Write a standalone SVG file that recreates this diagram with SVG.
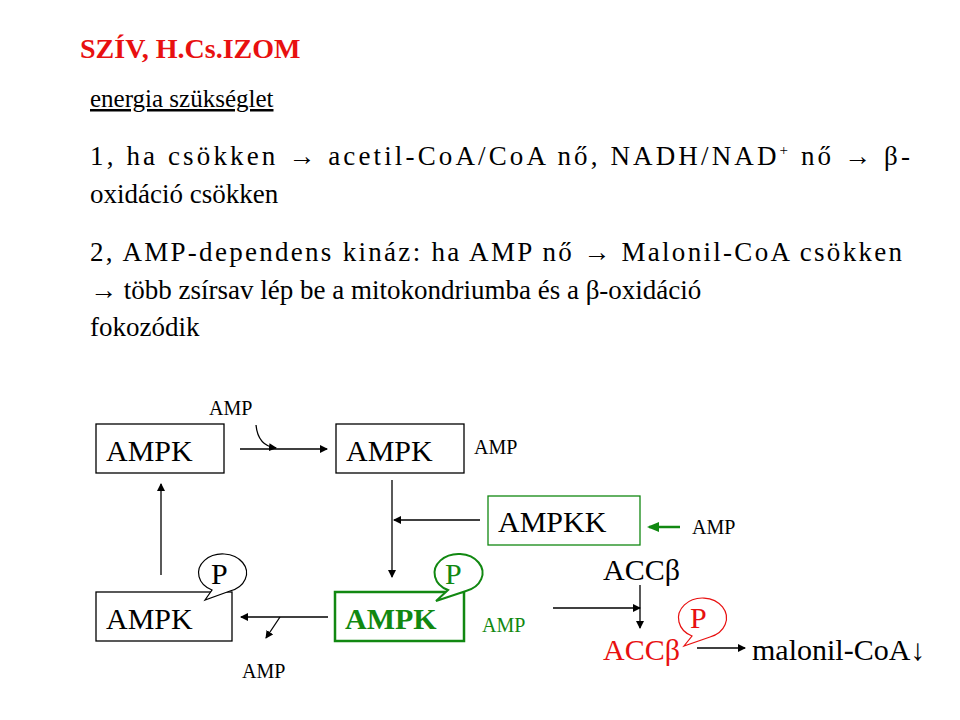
<svg xmlns="http://www.w3.org/2000/svg" width="960" height="720" viewBox="0 0 960 720">
<defs>
<marker id="ah" markerWidth="8" markerHeight="8" refX="7" refY="4" orient="auto" markerUnits="userSpaceOnUse"><path d="M0,0 L8,4 L0,8 z" fill="#000"/></marker>
<marker id="ahg" markerWidth="12" markerHeight="10" refX="10" refY="5" orient="auto" markerUnits="userSpaceOnUse"><path d="M0,0 L12,5 L0,10 z" fill="#118811"/></marker>
</defs>
<style>
text,tspan{font-family:"Liberation Serif","DejaVu Serif",serif}
text{fill:#000}
.t{font-size:27px}
.b{font-size:30px}
.s{font-size:20px}
.box{fill:#fff;stroke:#000;stroke-width:1.3}
.g{fill:#118811}
.r{fill:#e81010}
.c{fill:none;stroke:#000;stroke-width:1.3}
</style>
<rect width="960" height="720" fill="#fff"/>
<text x="80" y="58" style="font-size:28px;font-weight:bold" class="r">SZÍV, H.Cs.IZOM</text>
<text x="90" y="107" class="t" style="font-size:25px" text-decoration="underline">energia szükséglet</text>
<text x="90" y="165" class="t" textLength="820" lengthAdjust="spacing">1,  ha csökken → acetil-CoA/CoA nő, NADH/NAD<tspan dy="-10" style="font-size:15px">+</tspan><tspan dy="10"> nő → β-</tspan></text>
<text x="90" y="203" class="t">oxidáció csökken</text>
<text x="90" y="261" class="t" textLength="812" lengthAdjust="spacing">2, AMP-dependens kináz: ha AMP nő → Malonil-CoA csökken</text>
<text x="90" y="299" class="t">→ több zsírsav lép be a mitokondriumba  és a β-oxidáció</text>
<text x="90" y="336" class="t">fokozódik</text>

<g id="connectors">
<line x1="240" y1="449" x2="327" y2="449" class="c" marker-end="url(#ah)"/>
<path d="M256,425 Q258,446 276,448" class="c" marker-end="url(#ah)"/>
<line x1="161" y1="575" x2="161" y2="484" class="c" marker-end="url(#ah)"/>
<line x1="392" y1="480" x2="392" y2="577" class="c" marker-end="url(#ah)"/>
<line x1="480" y1="520" x2="394" y2="520" class="c" marker-end="url(#ah)"/>
<line x1="680" y1="527" x2="649" y2="527" style="stroke:#118811;stroke-width:2.5" marker-end="url(#ahg)"/>
<line x1="328" y1="617" x2="241" y2="617" class="c" marker-end="url(#ah)"/>
<line x1="280" y1="617" x2="266" y2="638" class="c" marker-end="url(#ah)"/>
<line x1="553" y1="608" x2="640" y2="608" class="c" marker-end="url(#ah)"/>
<line x1="640" y1="585" x2="640" y2="628" class="c" marker-end="url(#ah)"/>
<line x1="697" y1="648" x2="745" y2="648" class="c" marker-end="url(#ah)"/>
</g>

<g id="n1"><rect x="96" y="424" width="128" height="49" class="box"/><text x="106" y="461" class="b">AMPK</text></g>
<g id="n2"><rect x="336" y="424" width="128" height="49" class="box"/><text x="346" y="461" class="b">AMPK</text></g>
<g id="ampkk"><rect x="488" y="496" width="152" height="49" style="fill:#fff;stroke:#118811;stroke-width:1.3"/><text x="498" y="532" class="b">AMPKK</text></g>
<g id="n4"><rect x="96" y="592" width="136" height="49" class="box"/><text x="106" y="629" class="b">AMPK</text></g>
<g id="n5"><rect x="335" y="592" width="129" height="49" style="fill:#fff;stroke:#118811;stroke-width:2.5"/><text x="345" y="629" class="b g" font-weight="bold">AMPK</text></g>

<g id="p1"><path d="M212,590 A24,19 0 1 1 230,591 L205,600 z" style="fill:#fff;stroke:#000;stroke-width:1.2"/><text x="211" y="584" class="b">P</text></g>
<g id="p2"><path d="M448,590 A24,19 0 1 1 466,591 L436,601 z" style="fill:#fff;stroke:#118811;stroke-width:2"/><text x="445" y="584" class="b g">P</text></g>
<g id="p3"><path d="M692,636 A24,20 0 1 1 710,637 L684,646 z" style="fill:#fff;stroke:#e81010;stroke-width:1.2"/><text x="690" y="628" class="b r">P</text></g>

<g id="labels">
<text x="209" y="415" class="s">AMP</text>
<text x="474" y="454" class="s">AMP</text>
<text x="692" y="534" class="s">AMP</text>
<text x="482" y="632" class="s g">AMP</text>
<text x="242" y="678" class="s">AMP</text>
<text x="603" y="580" class="b">ACCβ</text>
<text x="603" y="660" class="b r">ACCβ</text>
<text x="752" y="660" class="b">malonil-CoA↓</text>
</g>
</svg>
